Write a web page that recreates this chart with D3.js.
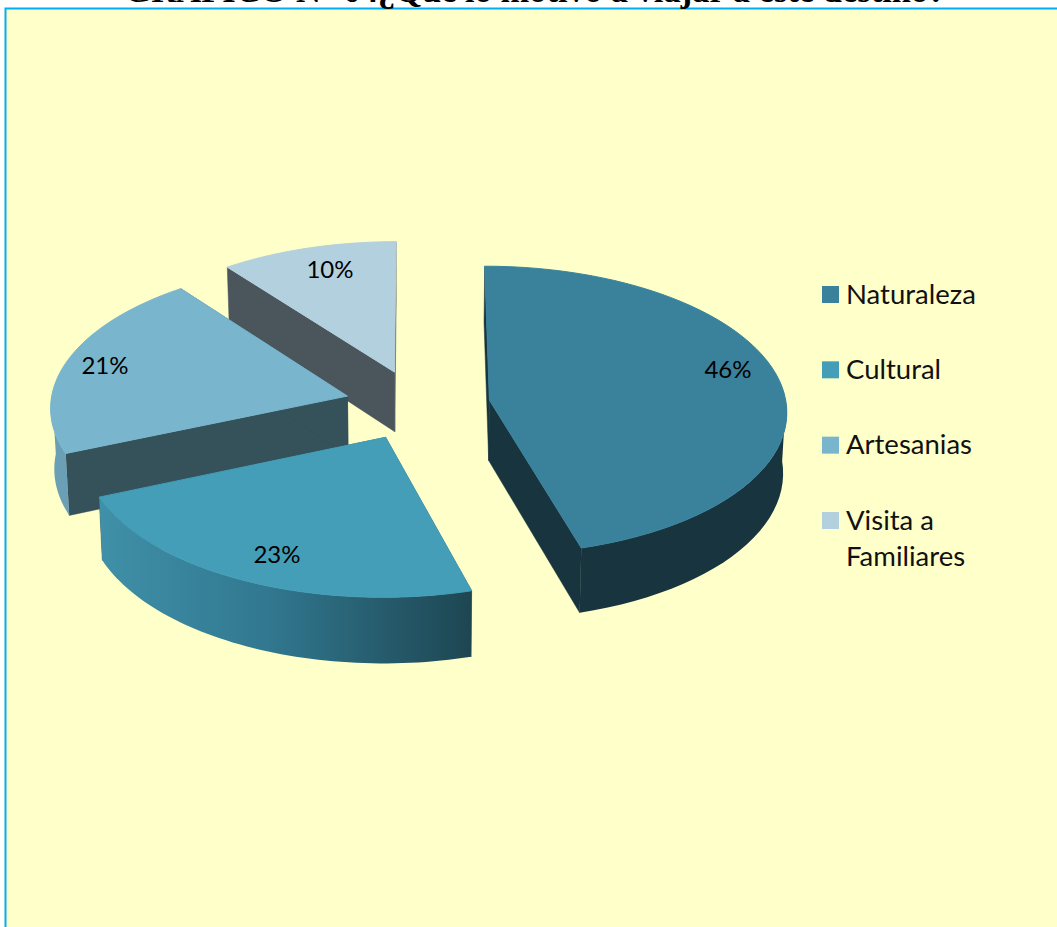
<!DOCTYPE html>
<html>
<head>
<meta charset="utf-8">
<script src="https://cdn.jsdelivr.net/npm/d3@7"></script>
<style>
html, body { margin: 0; padding: 0; background: #fff; overflow: hidden; }
</style>
</head>
<body>
<div id="chart"></div>
<script>
var categories = ['Naturaleza', 'Cultural', 'Artesanias', 'Visita a Familiares'];
var values = [45.6, 23, 21, 10.4];
var topColors = ['#3a829c', '#449eb8', '#79b6cd', '#b3d0de'];
var edgeColors = ['#17343f', '#35515a', '#35515a', '#4a555c'];
var title = 'GRÁFICO N° 04¿Qué lo motivo a viajar a este destino?';

var width = 1057, height = 927;

// pie geometry, tilted and with a bit of perspective
var cx = 417.5, cy = 405, rx = 297, ry = 144;
var persp = 0.07, explode = 0.245, depth = 60.5;

var svg = d3.select('#chart').append('svg')
	.attr('width', width)
	.attr('height', height)
	.style('display', 'block');

svg.append('rect')
	.attr('x', 5.5).attr('y', 8.5)
	.attr('width', width + 10).attr('height', height)
	.attr('fill', '#ffffc9')
	.attr('stroke', '#00b0f0')
	.attr('stroke-width', 2);

svg.append('text')
	.attr('x', 535).attr('y', 2)
	.attr('text-anchor', 'middle')
	.attr('font-family', '"Liberation Serif", serif')
	.attr('font-weight', 'bold')
	.attr('font-size', 34.5)
	.text(title);

var defs = svg.append('defs');
var wallGrad = defs.append('linearGradient')
	.attr('id', 'wall-cultural')
	.attr('gradientUnits', 'userSpaceOnUse')
	.attr('x1', 100).attr('x2', 471).attr('y1', 0).attr('y2', 0);
wallGrad.append('stop').attr('offset', 0).attr('stop-color', '#3f90a8');
wallGrad.append('stop').attr('offset', 0.45).attr('stop-color', '#317890');
wallGrad.append('stop').attr('offset', 1).attr('stop-color', '#1e4652');

var arcs = d3.pie().sort(null).startAngle(0).endAngle(2 * Math.PI)(values);
var color = d3.scaleOrdinal().domain(categories).range(topColors);
var edge = d3.scaleOrdinal().domain(categories).range(edgeColors);
var line = d3.line().x(function (d) { return d[0]; }).y(function (d) { return d[1]; });

// ground point of a slice (r along angle a, shifted out along its mid angle) to screen
function project(d, a, r, low) {
	var mid = (d.startAngle + d.endAngle) / 2;
	var u = explode * Math.sin(mid) + r * Math.sin(a);
	var v = -explode * Math.cos(mid) - r * Math.cos(a);
	var s = 1 / (1 - persp * v);
	return [
		cx + u * rx * s * (low ? 0.99 : 1),
		cy + v * ry * s + (low ? depth * s : 0)
	];
}

function rim(d, low) {
	var n = 60;
	return d3.range(n + 1).map(function (i) {
		return project(d, d.startAngle + (d.endAngle - d.startAngle) * i / n, 1, low);
	});
}

// back to front so the nearer slices cover the others
var order = [3, 2, 0, 1];
order.forEach(function (i) {
	var d = arcs[i];
	var name = categories[i];
	var g = svg.append('g').attr('class', 'slice');
	var outer = rim(d, false), outerLow = rim(d, true);
	var apex = project(d, 0, 0, false), apexLow = project(d, 0, 0, true);

	// radial walls
	[[outer[0], outerLow[0]], [outer[outer.length - 1], outerLow[outerLow.length - 1]]].forEach(function (p) {
		g.append('path')
			.attr('d', line([apex, p[0], p[1], apexLow]) + 'Z')
			.attr('fill', edge(name))
			.attr('stroke', edge(name))
			.attr('stroke-width', 0.5);
	});

	// rim wall, only the part that faces the viewer
	var front = d3.range(outer.length).filter(function (k) {
		var a = d.startAngle + (d.endAngle - d.startAngle) * k / (outer.length - 1);
		return Math.cos(a) < 0.03;
	});
	if (front.length > 1) {
		var rimFill = i === 1 ? 'url(#wall-cultural)' : (i === 2 ? '#6b9fb6' : edge(name));
		var upper = front.map(function (k) { return outer[k]; });
		var lower = front.map(function (k) { return outerLow[k]; }).reverse();
		g.append('path')
			.attr('d', line(upper.concat(lower)) + 'Z')
			.attr('fill', rimFill);
	}

	g.append('path')
		.attr('d', line([apex].concat(outer)) + 'Z')
		.attr('fill', color(name))
		.attr('stroke', color(name))
		.attr('stroke-width', 1);
});

var labelAt = [[728, 370], [277, 555], [105, 366], [330, 270]];
values.forEach(function (v, i) {
	svg.append('text')
		.attr('x', labelAt[i][0]).attr('y', labelAt[i][1])
		.attr('dy', '0.35em')
		.attr('text-anchor', 'middle')
		.attr('font-family', 'Lato, sans-serif')
		.attr('font-size', 24)
		.attr('fill', '#000')
		.text(Math.round(v) + '%');
});

var legendY = d3.scalePoint().domain(categories).range([294.5, 520.5]);
var legend = svg.selectAll('g.legend').data(categories).enter().append('g').attr('class', 'legend')
	.attr('transform', function (d) { return 'translate(822,' + legendY(d) + ')'; });
legend.append('rect')
	.attr('y', -8.5).attr('width', 17).attr('height', 17)
	.attr('fill', function (d) { return color(d); });
legend.append('text')
	.attr('x', 24)
	.attr('font-family', 'Lato, sans-serif')
	.attr('font-size', 27.5)
	.attr('fill', '#111')
	.each(function (d) {
		var el = d3.select(this);
		var parts = d === 'Visita a Familiares' ? ['Visita a', 'Familiares'] : [d];
		parts.forEach(function (t, k) {
			el.append('tspan')
				.attr('x', 24)
				.attr('y', 9 + k * 36)
				.text(t);
		});
	});
</script>
</body>
</html>
